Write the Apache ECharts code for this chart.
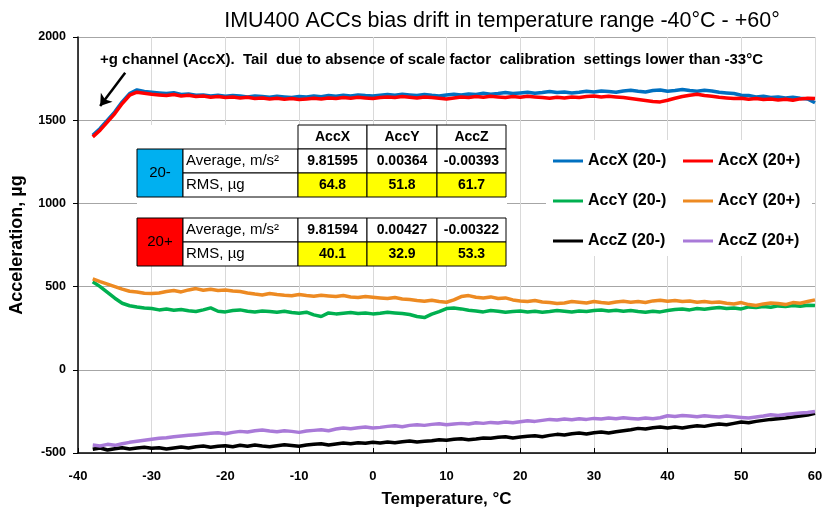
<!DOCTYPE html>
<html>
<head>
<meta charset="utf-8">
<script src="https://cdn.jsdelivr.net/npm/echarts@6/dist/echarts.min.js"></script>
<style>
  html, body { margin: 0; padding: 0; background: #fff; }
  #chart { width: 831px; height: 510px; }
</style>
</head>
<body>
<div id="chart"></div>
<script>
// temperature points, °C
var temps = [
  -38, -37, -36, -35, -34, -33, -32, -31, -30, -29,
  -28, -27, -26, -25, -24, -23, -22, -21, -20, -19,
  -18, -17, -16, -15, -14, -13, -12, -11, -10, -9,
  -8, -7, -6, -5, -4, -3, -2, -1, 0, 1,
  2, 3, 4, 5, 6, 7, 8, 9, 10, 11,
  12, 13, 14, 15, 16, 17, 18, 19, 20, 21,
  22, 23, 24, 25, 26, 27, 28, 29, 30, 31,
  32, 33, 34, 35, 36, 37, 38, 39, 40, 41,
  42, 43, 44, 45, 46, 47, 48, 49, 50, 51,
  52, 53, 54, 55, 56, 57, 58, 59, 60
];

// acceleration, µg
var accX_minus = [
  1410, 1450, 1500, 1550, 1610, 1660, 1682, 1672, 1668, 1664,
  1660, 1665, 1655, 1658, 1650, 1652, 1646, 1650, 1644, 1648,
  1645, 1640, 1646, 1642, 1638, 1644, 1640, 1636, 1642, 1640,
  1645, 1641, 1648, 1644, 1650, 1646, 1652, 1648, 1645, 1650,
  1654, 1650, 1656, 1652, 1648, 1655, 1650, 1646, 1652, 1656,
  1652, 1658, 1655, 1662, 1656, 1660, 1666, 1660, 1664, 1668,
  1662, 1666, 1672, 1666, 1670, 1664, 1668, 1674, 1670, 1676,
  1672, 1668, 1676, 1680, 1674, 1670, 1678, 1682, 1674, 1678,
  1684, 1678, 1674, 1680, 1676, 1668, 1664, 1660, 1650, 1648,
  1640, 1644, 1636, 1640, 1634, 1638, 1632, 1628, 1605
];
var accX_plus = [
  1400, 1440, 1490, 1540, 1600, 1650, 1668, 1662, 1656, 1652,
  1648, 1654, 1645, 1650, 1642, 1646, 1638, 1642, 1636, 1640,
  1634, 1638, 1630, 1634, 1628, 1632, 1626, 1630, 1624, 1628,
  1632, 1628, 1634, 1630, 1636, 1632, 1638, 1634, 1630, 1636,
  1640, 1636, 1642, 1638, 1634, 1640, 1636, 1632, 1628, 1634,
  1640, 1636, 1642, 1638, 1644, 1640, 1636, 1642, 1638, 1644,
  1640, 1636, 1632, 1638, 1634, 1640, 1636, 1642, 1646, 1640,
  1644, 1640, 1636, 1630, 1624, 1618, 1612, 1610, 1620, 1632,
  1642, 1650, 1656, 1648, 1644, 1638, 1634, 1630, 1632, 1626,
  1630, 1624, 1628, 1622, 1626, 1620, 1628, 1632, 1630
];
var accY_minus = [
  529, 500, 465, 430, 400, 385, 378, 372, 368, 360,
  365, 358, 362, 355, 350, 360, 372, 352, 348, 356,
  360, 352, 348, 354, 350, 346, 352, 344, 340, 346,
  330, 320, 342, 336, 340, 344, 338, 342, 336, 340,
  346, 342, 338, 332, 320, 314, 335, 350, 368, 372,
  366, 358, 354, 348, 356, 352, 346, 350, 354, 348,
  352, 346, 350, 356, 352, 348, 354, 350, 356, 360,
  354, 358, 352, 356, 350, 346, 352, 348, 356, 362,
  366, 360, 368, 364, 370, 374, 368, 372, 366, 378,
  374, 380, 376, 384, 380, 386, 382, 388, 386
];
var accY_plus = [
  547, 530, 515, 500, 485, 472, 468, 460, 458, 462,
  470, 476, 468, 480, 488, 478, 484, 476, 480, 474,
  470, 462, 455, 450, 458, 452, 448, 445, 452, 446,
  442, 448, 444, 440, 446, 438, 434, 440, 436, 432,
  428, 434, 426, 422, 416, 412, 418, 410, 406, 420,
  440, 446, 436, 432, 438, 428, 432, 420, 414, 410,
  416, 408, 404, 398, 402, 410, 406, 402, 410, 404,
  400, 408, 412, 406, 410, 404, 414, 418, 412, 416,
  410, 414, 406, 410, 404, 408, 400, 396, 404, 392,
  386, 396, 402, 398, 392, 404, 400, 410, 420
];
var accZ_minus = [
  -478, -470, -482, -474, -468, -476, -470, -465, -472, -468,
  -476, -470, -464, -470, -462, -458, -466, -460, -456, -462,
  -454, -460, -452, -458, -462, -456, -450, -455, -460, -452,
  -448, -444, -452, -446, -440, -444, -438, -442, -436, -440,
  -434, -438, -432, -428, -434, -430, -426, -420, -424, -418,
  -414, -420, -416, -410, -412, -406, -402, -410, -404, -400,
  -396, -402, -394, -388, -392, -384, -380, -386, -378, -374,
  -380, -372, -366, -360, -352, -356, -348, -344, -350, -344,
  -350, -342, -336, -340, -332, -326, -330, -322, -314, -318,
  -310, -304, -298, -294, -290, -284, -278, -272, -262
];
var accZ_plus = [
  -452, -458, -448, -454, -444, -436, -430, -424, -418, -412,
  -408, -402, -398, -394, -390, -386, -382, -378, -384, -376,
  -370, -374, -366, -362, -368, -372, -366, -370, -376, -368,
  -364, -360, -366, -356, -350, -354, -348, -344, -350, -346,
  -340, -336, -342, -334, -330, -334, -328, -324, -330, -326,
  -322, -326, -318, -322, -316, -320, -314, -318, -312, -306,
  -310, -304, -298, -302, -296, -300, -294, -298, -292, -296,
  -290, -294, -288, -292, -296, -290, -294, -288, -276, -280,
  -274, -278, -282, -276, -280, -284, -278, -282, -286, -290,
  -284, -278, -270, -274, -268, -264, -260, -256, -250
];

// table of results
var tableCols = ["AccX", "AccY", "AccZ"];
var rowLabels = ["Average, m/s²", "RMS, µg"];
var avg20minus = ["9.81595", "0.00364", "-0.00393"];
var rms20minus = ["64.8", "51.8", "61.7"];
var avg20plus = ["9.81594", "0.00427", "-0.00322"];
var rms20plus = ["40.1", "32.9", "53.3"];

var FONT = "Liberation Sans";

function pairs(arr) {
  return temps.map(function (t, i) { return [t, arr[i]]; });
}

// ---- table built with graphic elements ----
var tbl = [];
var colX = [298, 367, 437, 506];
var labX = 183, colorX = 137;
function cell(x, y, w, h, fill) {
  tbl.push({
    type: "rect", z: 5,
    shape: { x: x, y: y, width: w, height: h },
    style: { fill: fill, stroke: "#000", lineWidth: 1 }
  });
}
function txt(x, y, s, opt) {
  tbl.push({
    type: "text", z: 6, x: x, y: y,
    style: {
      text: s, fill: "#000",
      font: (opt.bold ? "bold " : "") + opt.size + "px " + FONT,
      align: opt.align || "center", verticalAlign: "middle"
    }
  });
}
// white backdrop over the grid
tbl.push({
  type: "rect", z: 4,
  shape: { x: 137, y: 125, width: 370, height: 141 },
  style: { fill: "#fff" }
});
// header
tableCols.forEach(function (c, i) {
  cell(colX[i], 125, colX[i + 1] - colX[i], 24, "#fff");
  txt((colX[i] + colX[i + 1]) / 2, 137, c, { bold: true, size: 14 });
});
function block(top, name, color, avg, rms) {
  cell(colorX, top, labX - colorX, 48, color);
  txt((colorX + labX) / 2, top + 24, name, { size: 15 });
  [avg, rms].forEach(function (vals, r) {
    var y = top + r * 24;
    cell(labX, y, colX[0] - labX, 24, "#fff");
    txt(labX + 3, y + 12, rowLabels[r], { size: 15, align: "left" });
    vals.forEach(function (v, i) {
      cell(colX[i], y, colX[i + 1] - colX[i], 24, r === 1 ? "#ffff00" : "#fff");
      txt((colX[i] + colX[i + 1]) / 2, y + 12, v, { bold: true, size: 14 });
    });
  });
}
block(149, "20-", "#00b0f0", avg20minus, rms20minus);
block(218, "20+", "#ff0000", avg20plus, rms20plus);

// legend backdrop
tbl.push({
  type: "rect", z: 1,
  shape: { x: 546, y: 140, width: 266, height: 116 },
  style: { fill: "#fff" }
});
// annotation
tbl.push({
  type: "text", z: 6, x: 100, y: 60,
  style: {
    text: "+g channel (AccX).  Tail  due to absence of scale factor  calibration  settings lower than -33°C",
    fill: "#000", font: "bold 15px " + FONT, verticalAlign: "middle"
  }
});

var chart = echarts.init(document.getElementById("chart"));

var legendText = { color: "#000", fontWeight: "bold", fontSize: 16, fontFamily: FONT };

var option = {
  animation: false,
  title: {
    text: "IMU400 ACCs bias drift in temperature range -40°C - +60°",
    left: 497, top: 5, textAlign: "center",
    textStyle: { fontFamily: FONT, fontSize: 21.5, fontWeight: "normal", color: "#000" }
  },
  legend: [
    {
      data: ["AccX (20-)", "AccY (20-)", "AccZ (20-)"],
      orient: "vertical", left: 548, top: 148,
      icon: "rect", itemWidth: 30, itemHeight: 3, itemGap: 24,
      textStyle: legendText
    },
    {
      data: ["AccX (20+)", "AccY (20+)", "AccZ (20+)"],
      orient: "vertical", left: 678, top: 148,
      icon: "rect", itemWidth: 30, itemHeight: 3, itemGap: 24,
      textStyle: legendText
    }
  ],
  grid: { left: 78, right: 16, top: 37, bottom: 57, outerBoundsMode: "none" },
  xAxis: {
    type: "value", min: -40, max: 60, interval: 10,
    name: "Temperature, °C", nameLocation: "middle", nameGap: 38,
    nameTextStyle: { fontFamily: FONT, fontWeight: "bold", fontSize: 17, color: "#000" },
    axisLine: { onZero: false, lineStyle: { color: "#000", width: 1.5 } },
    axisTick: { inside: true, length: 5, lineStyle: { color: "#000" } },
    axisLabel: { fontFamily: FONT, fontWeight: "bold", fontSize: 13, color: "#000", margin: 17 },
    splitLine: { show: true, lineStyle: { color: "#d9d9d9", width: 1 } }
  },
  yAxis: {
    type: "value", min: -500, max: 2000, interval: 500,
    name: "Acceleration, µg", nameLocation: "middle", nameGap: 52,
    nameTextStyle: { fontFamily: FONT, fontWeight: "bold", fontSize: 18, color: "#000" },
    axisLine: { show: true, onZero: false, lineStyle: { color: "#000", width: 1.5 } },
    axisTick: { show: true, length: 5, lineStyle: { color: "#000" } },
    axisLabel: {
      fontFamily: FONT, fontWeight: "bold", fontSize: 12.5, color: "#000", margin: 12,
      formatter: function (v) { return String(v); }
    },
    splitLine: { show: true, lineStyle: { color: "#a6a6a6", width: 1 } }
  },
  graphic: { elements: tbl },
  series: [
    {
      name: "AccX (20-)", type: "line", showSymbol: false, data: pairs(accX_minus),
      lineStyle: { color: "#0070c0", width: 3.5 }, itemStyle: { color: "#0070c0" },
      markLine: {
        silent: true, symbol: ["none", "arrow"], symbolSize: 11,
        label: { show: false },
        lineStyle: { color: "#000", width: 2.5, type: "solid" },
        data: [[{ coord: [-33.6, 1785] }, { coord: [-37.0, 1585] }]]
      }
    },
    {
      name: "AccX (20+)", type: "line", showSymbol: false, data: pairs(accX_plus),
      lineStyle: { color: "#ff0000", width: 3.5 }, itemStyle: { color: "#ff0000" }
    },
    {
      name: "AccY (20-)", type: "line", showSymbol: false, data: pairs(accY_minus),
      lineStyle: { color: "#00b050", width: 3.5 }, itemStyle: { color: "#00b050" }
    },
    {
      name: "AccY (20+)", type: "line", showSymbol: false, data: pairs(accY_plus),
      lineStyle: { color: "#ed8a22", width: 3.5 }, itemStyle: { color: "#ed8a22" }
    },
    {
      name: "AccZ (20-)", type: "line", showSymbol: false, data: pairs(accZ_minus),
      lineStyle: { color: "#000000", width: 3.5 }, itemStyle: { color: "#000000" }
    },
    {
      name: "AccZ (20+)", type: "line", showSymbol: false, data: pairs(accZ_plus),
      lineStyle: { color: "#a97ad8", width: 3.5 }, itemStyle: { color: "#a97ad8" }
    }
  ]
};

chart.setOption(option);
</script>
</body>
</html>
